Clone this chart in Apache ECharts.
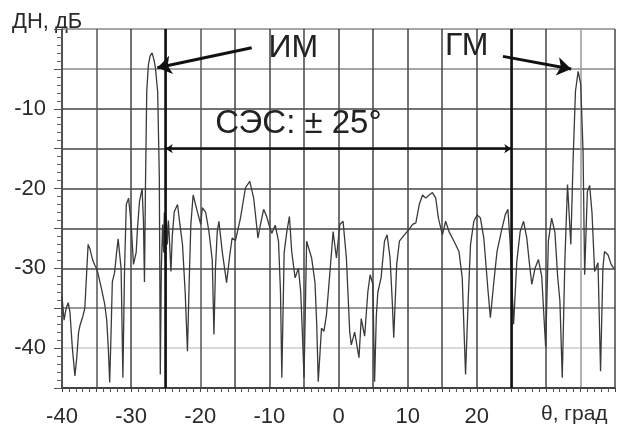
<!DOCTYPE html>
<html>
<head>
<meta charset="utf-8">
<script src="https://cdn.jsdelivr.net/npm/echarts@6/dist/echarts.min.js"></script>
<style>html,body{margin:0;padding:0;background:#fff}#c{width:618px;height:436px}</style>
</head>
<body>
<div id="c"></div>
<script>
var theta = [-40.0,-39.7,-39.4,-39.1,-38.85,-38.5,-38.13,-37.85,-37.6,-37.41,-36.98,-36.7,-36.4,-36.22,-35.98,-35.55,-35.2,-35.01,-34.83,-34.3,-33.82,-33.53,-33.3,-33.1,-32.9,-32.72,-32.39,-32.1,-31.88,-31.67,-31.45,-31.19,-30.95,-30.7,-30.37,-29.99,-29.66,-29.27,-29.08,-28.79,-28.41,-28.22,-28.07,-27.93,-27.74,-27.5,-27.26,-26.97,-26.71,-26.49,-26.16,-25.92,-25.78,-25.63,-25.45,-25.3,-25.2,-25.06,-24.91,-24.77,-24.6,-24.48,-24.24,-24.05,-23.76,-23.29,-22.94,-22.57,-22.18,-21.85,-21.61,-21.36,-21.03,-20.8,-20.42,-19.93,-19.7,-19.21,-18.74,-18.26,-18.02,-17.8,-17.54,-17.3,-16.82,-16.19,-15.72,-15.39,-14.9,-14.18,-13.46,-12.84,-12.27,-11.65,-11.31,-10.83,-10.36,-9.97,-9.64,-9.15,-8.68,-8.39,-8.2,-7.86,-7.49,-7.1,-6.77,-6.28,-5.8,-5.47,-5.23,-4.99,-4.61,-4.37,-3.89,-3.4,-3.15,-2.93,-2.46,-2.11,-1.74,-1.25,-0.78,-0.3,0.19,0.66,1.14,1.62,1.85,2.34,2.96,3.29,3.78,4.25,4.58,4.97,5.22,5.47,5.69,6.16,6.65,7.03,7.46,7.77,7.99,8.42,8.81,9.53,10.14,10.72,11.19,11.68,12.16,12.63,13.12,13.59,14.07,14.45,15.03,15.5,15.99,16.71,17.43,17.9,18.38,18.76,19.1,19.58,20.06,20.53,21.02,21.64,21.97,22.46,22.93,23.55,24.12,24.51,24.84,25.33,25.8,26.28,26.77,27.24,27.57,27.96,28.43,28.92,29.4,29.78,29.97,30.36,30.83,31.31,31.7,32.03,32.37,32.75,33.13,33.61,33.95,34.28,34.67,35.04,35.38,35.61,36.0,36.33,36.67,37.05,37.54,37.91,38.25,38.48,38.98,39.45,39.84];
var dB = [-33.5,-36.5,-35,-34.3,-35.5,-40,-43.5,-41,-38,-37.2,-36,-35,-30,-27,-27.5,-29,-29.7,-30,-30.5,-32.5,-34.5,-36.5,-40,-44.3,-38,-31.7,-30.5,-28,-26.3,-26.2,-30,-43.7,-30,-22,-21.2,-24.5,-29.5,-28,-25,-21.6,-20,-24,-31.7,-20,-7.8,-4.5,-3.4,-3,-3.8,-4.8,-7.9,-18.6,-43.3,-30,-24.5,-28,-23,-29,-23.5,-27,-24,-26,-30.4,-26,-22.9,-22,-24.5,-27,-33,-40.4,-32,-24.5,-20.8,-20.9,-22.9,-24.5,-22.4,-23,-25.4,-29,-38.3,-30,-25.4,-24.1,-27.9,-31.8,-28.3,-26.2,-26.5,-23.7,-19.9,-19.1,-21.2,-26.2,-24.6,-22.6,-23.6,-24.8,-25.6,-24.6,-26.6,-33,-43.7,-28,-25.5,-23.5,-27.9,-31.2,-30,-32.9,-38,-43.7,-26.6,-26.6,-28.7,-31.8,-37,-44.2,-37.5,-37.9,-35.8,-30.6,-25.4,-28.7,-24.5,-24.1,-28.7,-37.9,-39.6,-38,-41.2,-36.3,-38.5,-32.9,-30.8,-32,-44.2,-36,-33,-31.2,-26.6,-25.8,-28.7,-34,-38.7,-29.5,-26.6,-25.8,-25.2,-24.5,-24.3,-22,-20.8,-21.2,-20.8,-20.5,-21.2,-23.7,-25.8,-24.1,-25.4,-26.6,-27.9,-31.2,-43.3,-34,-27,-24.1,-23.3,-23.7,-26.2,-32.9,-36.2,-31.8,-27.9,-25.4,-23.3,-22.6,-27,-37,-29.1,-25.4,-24.1,-26.2,-29,-32,-30,-28.9,-31,-37,-39.9,-26.6,-23.7,-25.5,-31,-34.1,-43.7,-29,-19.5,-27,-16.1,-7.8,-5.3,-6.9,-15.4,-30.8,-20.4,-19.6,-23,-30.4,-29.3,-42.9,-30,-27.9,-28.3,-29.5,-30];

var xLabels = [-40, -30, -20, -10, 0, 10, 20];
var yLabels = [-10, -20, -30, -40];
var sectorEdges = [-25, 25];
var sectorLevel = -15;
var imArrow = [[-12.56, -2.34], [-26.2, -4.85]];
var gmArrow = [[23.79, -3.43], [33.66, -5.01]];
var imText = [-6.52, -2.4];
var gmText = [18.55, -2.15];
var sesText = [-5.8, -11.9];

var FONT = 'Liberation Sans';
var points = theta.map(function (t, i) { return [t, dB[i]]; });

var xColors = ['#444','#555','#444','#444','#555','#444','#444','#444','#444','#444','#444','#444','#444','#444','#444','#999','#444'];
var yColors = ['#444','#ccc','#777','#444','#444','#444','#444','#444','#888','#888'];

function textPoint(coord, txt, size) {
  return {
    coord: coord, symbol: 'circle', symbolSize: 1,
    itemStyle: { color: 'rgba(0,0,0,0)' },
    label: { show: true, position: 'inside', formatter: txt, fontSize: size, fontFamily: FONT, color: '#222' }
  };
}

var chart = echarts.init(document.getElementById('c'), null, { renderer: 'canvas' });
chart.setOption({
  animation: false,
  backgroundColor: '#fff',
  grid: { left: 62, right: 0, top: 29, bottom: 48, containLabel: false },
  xAxis: {
    type: 'value', min: -40, max: 40, interval: 5,
    axisLine: { show: true, onZero: false, lineStyle: { color: '#333', width: 1.5 } },
    axisTick: { show: true, length: 4, lineStyle: { color: '#444' } },
    minorTick: { show: true, splitNumber: 5, length: 4, lineStyle: { color: '#555' } },
    splitLine: { show: true, lineStyle: { color: xColors, width: 1.5 } },
    axisLabel: {
      margin: 18, fontSize: 22, fontFamily: FONT, color: '#2a2a2a',
      formatter: function (v) { return xLabels.indexOf(v) >= 0 ? String(v) : ''; }
    }
  },
  yAxis: {
    type: 'value', min: -45, max: 0, interval: 5,
    axisLine: { show: true, onZero: false, lineStyle: { color: '#444', width: 1.5 } },
    axisTick: { show: true, length: 8, lineStyle: { color: '#555' } },
    minorTick: { show: true, splitNumber: 5, length: 5, lineStyle: { color: '#666' } },
    splitLine: { show: true, lineStyle: { color: yColors, width: 1.5 } },
    axisLabel: {
      margin: 16, fontSize: 22, fontFamily: FONT, color: '#2a2a2a',
      formatter: function (v) { return yLabels.indexOf(v) >= 0 ? String(v) : ''; }
    }
  },
  graphic: [
    { type: 'text', left: 12, top: 11, style: { text: 'ДН, дБ', font: '22px "Liberation Sans"', fill: '#2a2a2a' } },
    { type: 'text', left: 541, top: 404, style: { text: 'θ, град', font: '21px "Liberation Sans"', fill: '#2a2a2a' } }
  ],
  series: [{
    type: 'line',
    data: points,
    showSymbol: false,
    symbol: 'none',
    lineStyle: { color: '#3a3a3a', width: 1.3 },
    markLine: {
      silent: true,
      label: { show: false },
      symbol: ['none', 'none'],
      lineStyle: { color: '#111', width: 2.5, type: 'solid' },
      data: [
        { xAxis: sectorEdges[0] },
        { xAxis: sectorEdges[1] },
        [ { coord: [sectorEdges[0], sectorLevel], symbol: 'arrow', symbolSize: 7 },
          { coord: [sectorEdges[1], sectorLevel], symbol: 'arrow', symbolSize: 7 } ],
        [ { coord: imArrow[0], symbol: 'none', lineStyle: { width: 3 } },
          { coord: imArrow[1], symbol: 'arrow', symbolSize: 14 } ],
        [ { coord: gmArrow[0], symbol: 'none', lineStyle: { width: 3 } },
          { coord: gmArrow[1], symbol: 'arrow', symbolSize: 14 } ]
      ]
    },
    markPoint: {
      silent: true,
      data: [
        textPoint(imText, 'ИМ', 32),
        textPoint(gmText, 'ГМ', 32),
        textPoint(sesText, 'СЭС: ± 25°', 33)
      ]
    }
  }]
});
</script>
</body>
</html>
